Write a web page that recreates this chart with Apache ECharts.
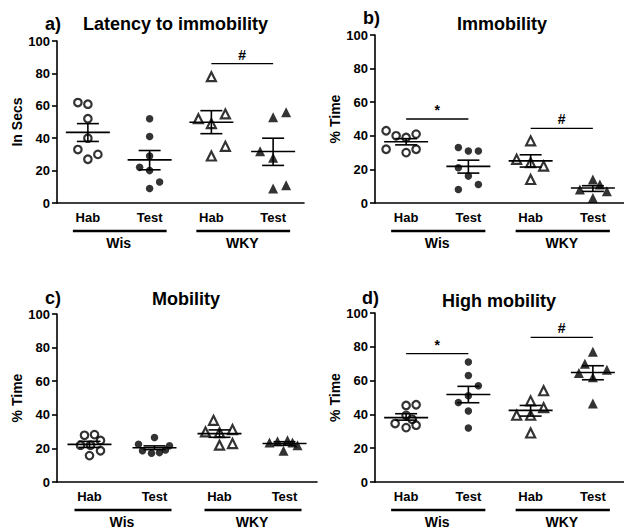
<!DOCTYPE html>
<html>
<head>
<meta charset="utf-8">
<title>Latency, immobility and mobility</title>
<script src="https://cdn.jsdelivr.net/npm/echarts@6.0.0/dist/echarts.min.js"></script>
<style>
  html, body { margin: 0; padding: 0; background: #fff; }
  #chart { width: 624px; height: 529px; }
</style>
</head>
<body>
<div id="chart"></div>
<script>
  // categories
  const conditions = ['Hab', 'Test', 'Hab', 'Test']
  const strains = ['Wis', 'WKY']
  const panelLetters = ['a)', 'b)', 'c)', 'd)']
  const panelTitles = ['Latency to immobility', 'Immobility', 'Mobility', 'High mobility']
  const yNames = ['In Secs', '% Time', '% Time', '% Time']
  const yMin = 0
  const yMax = 100
  const yStep = 20

  // a) latency to immobility (s)
  const latencyWisHab = [62, 61, 52, 40, 33, 27, 30]
  const latencyWisTest = [52, 41, 29, 22, 20, 13, 9]
  const latencyWkyHab = [78, 52, 55, 49, 35, 29]
  const latencyWkyTest = [53, 56, 32, 28, 9, 11]
  const latencyMean = [43.6, 26.6, 49.8, 31.8]
  const latencySemLow = [38, 20.5, 42.8, 23.2]
  const latencySemHigh = [49, 32.4, 57, 40]
  const latencySigFrom = [2]
  const latencySigTo = [3]
  const latencySigY = [86]
  const latencySigMark = ['#']

  // b) immobility (% time)
  const immobWisHab = [43, 40, 39, 41, 32, 30, 32]
  const immobWisTest = [33, 31, 31, 21, 16, 8, 11]
  const immobWkyHab = [37, 26, 24, 22, 14]
  const immobWkyTest = [14, 11, 8, 7, 3]
  const immobMean = [36.5, 21.8, 25.1, 8.9]
  const immobSemLow = [34.6, 17.8, 21.4, 6.9]
  const immobSemHigh = [38.3, 25.5, 28.7, 10.3]
  const immobSigFrom = [0, 2]
  const immobSigTo = [1, 3]
  const immobSigY = [50, 44.4]
  const immobSigMark = ['*', '#']

  // c) mobility (% time)
  const mobWisHab = [27.8, 28.2, 24.7, 21.9, 21.9, 18.6, 15.7]
  const mobWisTest = [26.5, 22.5, 21.6, 18.6, 17.1, 17.5, 19.0]
  const mobWkyHab = [36.7, 29.8, 29.4, 31.2, 21.9, 22.9]
  const mobWkyTest = [23.5, 24.3, 24.9, 23.5, 21.9, 18.6]
  const mobMean = [22.4, 20.4, 28.8, 22.9]
  const mobSemLow = [20.6, 19.3, 26.6, 21.8]
  const mobSemHigh = [24.2, 21.5, 31.0, 24.0]
  const mobSigFrom = []
  const mobSigTo = []
  const mobSigY = []
  const mobSigMark = []

  // d) high mobility (% time)
  const highWisHab = [45.3, 45.7, 39.4, 37.1, 34.6, 32.2, 33.6]
  const highWisTest = [71, 63, 57, 47, 51, 42, 32]
  const highWkyHab = [54, 48, 44, 39.5, 39.5, 29]
  const highWkyTest = [77, 70, 64.5, 66.4, 62, 46.5]
  const highMean = [38.1, 51.8, 42.4, 64.8]
  const highSemLow = [36.6, 46.9, 39.0, 60.5]
  const highSemHigh = [40.4, 56.6, 45.3, 68.8]
  const highSigFrom = [0, 2]
  const highSigTo = [1, 3]
  const highSigY = [76, 85.6]
  const highSigMark = ['*', '#']

  // horizontal scatter of the dots, in px (layout only)
  const latencyJitter = [[-10, 0, 0, 0, -10, 0, 10], [0, 0, 0, -10, 0, 10, 0], [0, -13, 14, 0, 14, 0], [0, 13, -13, 0, 0, 13]]
  const immobJitter = [[-20, -10, 0, 10, -20, 0, 10], [-10, 0, 10, -10, 0, -10, 10], [0, -14, 0, 13, 0], [0, 7, -13, 14, 0]]
  const mobJitter = [[-5, 5, 11, -9, 1, 11, 0], [0, -16, 15, -12, -3, 5, 11], [-6, -14, 0, 13, 0, 13], [-15, -7, 3, 8, 13, -1]]
  const highJitter = [[0, 10, 0, 6, -11, 0, 10], [0, 0, 10, -10, 0, 0, 0], [13, 0, 13, -14, 0, 0], [0, -8, -14, 14, 0, 0]]

  const panels = [
    { groups: [latencyWisHab, latencyWisTest, latencyWkyHab, latencyWkyTest], jitter: latencyJitter,
      mean: latencyMean, low: latencySemLow, high: latencySemHigh,
      sigFrom: latencySigFrom, sigTo: latencySigTo, sigY: latencySigY, sigMark: latencySigMark },
    { groups: [immobWisHab, immobWisTest, immobWkyHab, immobWkyTest], jitter: immobJitter,
      mean: immobMean, low: immobSemLow, high: immobSemHigh,
      sigFrom: immobSigFrom, sigTo: immobSigTo, sigY: immobSigY, sigMark: immobSigMark },
    { groups: [mobWisHab, mobWisTest, mobWkyHab, mobWkyTest], jitter: mobJitter,
      mean: mobMean, low: mobSemLow, high: mobSemHigh,
      sigFrom: mobSigFrom, sigTo: mobSigTo, sigY: mobSigY, sigMark: mobSigMark },
    { groups: [highWisHab, highWisTest, highWkyHab, highWkyTest], jitter: highJitter,
      mean: highMean, low: highSemLow, high: highSemHigh,
      sigFrom: highSigFrom, sigTo: highSigTo, sigY: highSigY, sigMark: highSigMark }
  ]

  // layout
  const font = 'Liberation Sans, Arial, sans-serif'
  const grids = [
    { left: 57, top: 41, width: 247, height: 162 },
    { left: 375, top: 35, width: 256, height: 168 },
    { left: 57, top: 314, width: 260, height: 170 },
    { left: 375, top: 313, width: 258, height: 171 }
  ]
  const letterPos = [[45, 15], [363, 9], [45, 289], [362, 289]]
  const titlePos = [[83, 15], [457, 15], [152, 290], [442, 292]]
  const markers = [
    { symbol: 'circle', size: 7.5, filled: false },
    { symbol: 'circle', size: 7.5, filled: true },
    { symbol: 'triangle', size: 9, filled: false },
    { symbol: 'triangle', size: 10, filled: true }
  ]
  const lineStyle = { stroke: '#000', lineWidth: 1.6 }

  function renderMean(params, api) {
    const x = api.value(0)
    const m = api.coord([x, api.value(1)])
    const lo = api.coord([x, api.value(2)])
    const hi = api.coord([x, api.value(3)])
    return {
      type: 'group',
      children: [
        { type: 'line', shape: { x1: m[0] - 22, y1: m[1], x2: m[0] + 22, y2: m[1] }, style: lineStyle },
        { type: 'line', shape: { x1: m[0], y1: hi[1], x2: m[0], y2: lo[1] }, style: lineStyle },
        { type: 'line', shape: { x1: m[0] - 11, y1: hi[1], x2: m[0] + 11, y2: hi[1] }, style: lineStyle },
        { type: 'line', shape: { x1: m[0] - 11, y1: lo[1], x2: m[0] + 11, y2: lo[1] }, style: lineStyle }
      ]
    }
  }

  function makeSigRenderer(marks) {
    return function (params, api) {
      const a = api.coord([api.value(0), api.value(1)])
      const b = api.coord([api.value(2), api.value(1)])
      return {
        type: 'group',
        children: [
          { type: 'line', shape: { x1: a[0], y1: a[1], x2: b[0], y2: b[1] }, style: { stroke: '#000', lineWidth: 1.3 } },
          { type: 'text', style: { text: marks[params.dataIndex], x: (a[0] + b[0]) / 2, y: a[1] - 2,
            textAlign: 'center', textVerticalAlign: 'bottom', font: 'bold 14px ' + font, fill: '#000' } }
        ]
      }
    }
  }

  function renderStrainLine(params, api) {
    const a = api.coord([api.value(0), yMin])
    const b = api.coord([api.value(2), yMin])
    const y = a[1] + 28
    return { type: 'line', shape: { x1: a[0] - 15, y1: y, x2: b[0] + 17, y2: y }, style: { stroke: '#000', lineWidth: 2.6 } }
  }

  const title = []
  const xAxis = []
  const yAxis = []
  const series = []

  panels.forEach((p, i) => {
    title.push({ text: panelLetters[i], left: letterPos[i][0], top: letterPos[i][1], padding: 0,
      textStyle: { fontFamily: font, fontWeight: 'bold', fontSize: 18, color: '#000' } })
    title.push({ text: panelTitles[i], left: titlePos[i][0], top: titlePos[i][1], padding: 0,
      textStyle: { fontFamily: font, fontWeight: 'bold', fontSize: 18, color: '#000' } })

    xAxis.push({
      type: 'category', gridIndex: i, data: conditions,
      axisLine: { lineStyle: { color: '#000', width: 1.6 } },
      axisTick: { alignWithLabel: true, length: 5, lineStyle: { color: '#000', width: 1.6 } },
      axisLabel: { margin: 8, color: '#000', fontFamily: font, fontWeight: 'bold', fontSize: 13 },
      splitLine: { show: false }
    })
    xAxis.push({
      type: 'category', gridIndex: i, data: strains, position: 'bottom', offset: 25,
      axisLine: { show: false }, axisTick: { show: false },
      axisLabel: { margin: 8, color: '#000', fontFamily: font, fontWeight: 'bold', fontSize: 14 },
      splitLine: { show: false }
    })
    yAxis.push({
      type: 'value', gridIndex: i, min: yMin, max: yMax, interval: yStep,
      name: yNames[i], nameLocation: 'middle', nameGap: 33,
      nameTextStyle: { color: '#000', fontFamily: font, fontWeight: 'bold', fontSize: 14 },
      axisLine: { show: true, lineStyle: { color: '#000', width: 1.6 } },
      axisTick: { show: true, length: 5, lineStyle: { color: '#000', width: 1.6 } },
      axisLabel: { margin: 7, color: '#000', fontFamily: font, fontWeight: 'bold', fontSize: 13 },
      splitLine: { show: false }
    })

    p.groups.forEach((vals, g) => {
      const mk = markers[g]
      series.push({
        type: 'scatter', xAxisIndex: i * 2, yAxisIndex: i,
        symbol: mk.symbol, symbolSize: mk.size,
        itemStyle: mk.filled
          ? { color: '#000' }
          : { color: 'rgba(255,255,255,0)', borderColor: '#000', borderWidth: 2.2 },
        data: vals.map((v, k) => ({ value: [g, v], symbolOffset: [p.jitter[g][k], 0] })),
        z: 3
      })
    })

    series.push({
      type: 'custom', xAxisIndex: i * 2, yAxisIndex: i, renderItem: renderMean, z: 4,
      data: p.mean.map((m, g) => [g, m, p.low[g], p.high[g]])
    })
    if (p.sigFrom.length) {
      series.push({
        type: 'custom', xAxisIndex: i * 2, yAxisIndex: i, renderItem: makeSigRenderer(p.sigMark), z: 4,
        data: p.sigFrom.map((f, k) => [f, p.sigY[k], p.sigTo[k]])
      })
    }
    series.push({
      type: 'custom', xAxisIndex: i * 2, yAxisIndex: i, renderItem: renderStrainLine, clip: false, z: 4,
      data: [[0, yMin, 1], [2, yMin, 3]]
    })
  })

  const chart = echarts.init(document.getElementById('chart'), null, { renderer: 'svg' })
  chart.setOption({
    animation: false,
    backgroundColor: '#fff',
    textStyle: { fontFamily: font },
    title: title,
    grid: grids,
    xAxis: xAxis,
    yAxis: yAxis,
    series: series
  })
</script>
</body>
</html>
